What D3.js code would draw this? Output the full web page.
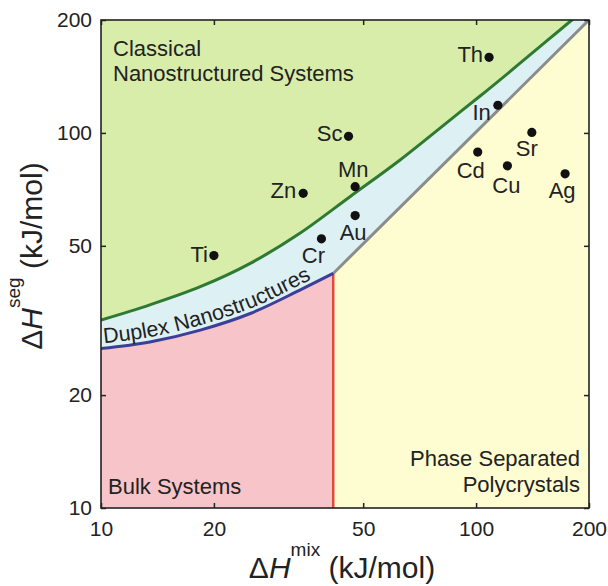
<!DOCTYPE html>
<html>
<head>
<meta charset="utf-8">
<script src="https://cdn.jsdelivr.net/npm/d3@7/dist/d3.min.js"></script>
<style>
  html, body { margin: 0; padding: 0; background: #fff; }
  svg text { font-family: "Liberation Sans", Arial, Helvetica, sans-serif; fill: #222; }
</style>
</head>
<body>
<svg id="chart" width="608" height="586"></svg>
<script>
// Alloy systems: mixing enthalpy vs. segregation enthalpy (kJ/mol)
const elements     = ["Ti", "Zn", "Sc", "Mn", "Au", "Cr", "Th", "In", "Cd", "Sr", "Cu", "Ag"];
const mixEnthalpy  = [20, 34.6, 45.7, 47.6, 47.6, 38.7, 108.3, 114.3, 101, 140.8, 121.2, 172.7];
const segEnthalpy  = [47.1, 69.0, 97.9, 71.9, 60.2, 52.2, 159, 118.5, 88.9, 100.3, 81.7, 77.8];

// Boundary between classical nanostructured systems and duplex nanostructures
const nanoBoundaryMix = [10, 13.5, 18.4, 25, 33.9, 46.1, 62.7, 85.2, 102.5, 180, 215];
const nanoBoundarySeg = [31.7, 34.8, 38.9, 44.9, 54.0, 67.6, 84.7, 108.2, 125.4, 200, 232];

// Boundary between duplex nanostructures and bulk systems
const duplexBoundaryMix = [10, 13.5, 18.4, 25, 33.9, 41.6];
const duplexBoundarySeg = [26.6, 27.7, 29.8, 33.0, 38.1, 42.2];

// Phase-separation limits
const phaseLimitMix = 41.6;
const diagonalMix = [41.6, 200];
const diagonalSeg = [42.2, 200];

const tickValues = [10, 20, 50, 100, 200];
const axisDomain = [10, 200];

// label placement around each point: [anchor, dx, dy]
const labelPlacement = {
  Ti: ["end", -6, 6], Zn: ["end", -7, 5], Sc: ["end", -6, 5], Th: ["end", -6, 5],
  Mn: ["middle", -2, -10], Au: ["middle", -2, 24], Cr: ["middle", -8, 24],
  In: ["end", -7, 15], Cd: ["middle", -7, 26], Sr: ["middle", -5, 24],
  Cu: ["middle", -1, 27], Ag: ["middle", -3, 24]
};

const L = 101, R = 589, T = 20, B = 508;
const svg = d3.select("#chart");
const x = d3.scaleLog().domain(axisDomain).range([L, R]);
const y = d3.scaleLog().domain(axisDomain).range([B, T]);

const zip = (a, b) => a.map((v, i) => [v, b[i]]);
const nanoPts = zip(nanoBoundaryMix, nanoBoundarySeg);
const duplexPts = zip(duplexBoundaryMix, duplexBoundarySeg);
const diagPts = zip(diagonalMix, diagonalSeg);

svg.append("defs").append("clipPath").attr("id", "plotClip")
  .append("rect").attr("x", L).attr("y", T).attr("width", R - L).attr("height", B - T);

const plot = svg.append("g").attr("clip-path", "url(#plotClip)");

const line = d3.line().x(d => x(d[0])).y(d => y(d[1])).curve(d3.curveMonotoneX);
const areaBelow = d3.area().x(d => x(d[0])).y1(d => y(d[1])).y0(B).curve(d3.curveMonotoneX);

// classical nanostructured region (background)
plot.append("rect").attr("x", L).attr("y", T).attr("width", R - L).attr("height", B - T)
  .attr("fill", "#d9edab");
// duplex band: everything below the nanostructure boundary
plot.append("path").attr("d", areaBelow(nanoPts)).attr("fill", "#ddf0f3");
// bulk systems
plot.append("path").attr("d", areaBelow(duplexPts)).attr("fill", "#f7c5c9");
// phase separated polycrystals
const phasePoly = [[phaseLimitMix, axisDomain[0]], diagPts[0], diagPts[1], [axisDomain[1], axisDomain[0]]];
plot.append("path")
  .attr("d", d3.line().x(d => x(d[0])).y(d => y(d[1]))(phasePoly) + "Z")
  .attr("fill", "#fefcd1");

// boundary lines
plot.append("path").attr("d", d3.line().x(d => x(d[0])).y(d => y(d[1]))(diagPts))
  .attr("fill", "none").attr("stroke", "#8c8c8c").attr("stroke-width", 3);
plot.append("line")
  .attr("x1", x(phaseLimitMix)).attr("x2", x(phaseLimitMix))
  .attr("y1", y(axisDomain[0])).attr("y2", y(diagPts[0][1]))
  .attr("stroke", "#e04a3c").attr("stroke-width", 2.5);
plot.append("path").attr("d", line(duplexPts))
  .attr("fill", "none").attr("stroke", "#3b3f98").attr("stroke-width", 3);
plot.append("path").attr("d", line(nanoPts))
  .attr("fill", "none").attr("stroke", "#2e7a32").attr("stroke-width", 3);

// curved label riding on the duplex boundary
const labelPath = d3.line().x(d => x(d[0])).y(d => y(d[1]) - 5).curve(d3.curveMonotoneX);
svg.select("defs").append("path").attr("id", "duplexTextPath").attr("d", labelPath(duplexPts));
svg.append("text").attr("font-size", 21.5)
  .append("textPath").attr("href", "#duplexTextPath").attr("startOffset", 3)
  .text("Duplex Nanostructures");

// region titles
const regionText = svg.append("g").attr("font-size", 22);
regionText.append("text").attr("x", 113).attr("y", 56).text("Classical");
regionText.append("text").attr("x", 113).attr("y", 81).text("Nanostructured Systems");
regionText.append("text").attr("x", 108).attr("y", 494).text("Bulk Systems");
regionText.append("text").attr("x", 580).attr("y", 466).attr("text-anchor", "end").text("Phase Separated");
regionText.append("text").attr("x", 580).attr("y", 492).attr("text-anchor", "end").text("Polycrystals");

// points
const pts = svg.append("g");
elements.forEach((el, i) => {
  const cx = x(mixEnthalpy[i]), cy = y(segEnthalpy[i]);
  pts.append("circle").attr("cx", cx).attr("cy", cy).attr("r", 4.6).attr("fill", "#111");
  const [anchor, dx, dy] = labelPlacement[el];
  pts.append("text").attr("x", cx + dx).attr("y", cy + dy)
    .attr("text-anchor", anchor).attr("font-size", 22).text(el);
});

// axes with inward ticks on all four sides
const fmt = d3.format("d");
const styleAxis = g => {
  g.select(".domain").remove();
  g.selectAll(".tick line").attr("stroke", "#222").attr("stroke-width", 1.5);
  g.selectAll("text").attr("font-size", 21).attr("fill", "#222")
    .attr("font-family", "Liberation Sans, Arial, sans-serif");
};
svg.append("g").attr("transform", `translate(0,${B})`)
  .call(d3.axisBottom(x).tickValues(tickValues).tickFormat(fmt).tickSizeInner(-5).tickSizeOuter(0).tickPadding(13))
  .call(styleAxis);
svg.append("g").attr("transform", `translate(${L},0)`)
  .call(d3.axisLeft(y).tickValues(tickValues).tickFormat(fmt).tickSizeInner(-5).tickSizeOuter(0).tickPadding(9))
  .call(styleAxis);
svg.append("g").attr("transform", `translate(0,${T})`)
  .call(d3.axisTop(x).tickValues(tickValues).tickFormat("").tickSizeInner(-5).tickSizeOuter(0))
  .call(styleAxis);
svg.append("g").attr("transform", `translate(${R},0)`)
  .call(d3.axisRight(y).tickValues(tickValues).tickFormat("").tickSizeInner(-5).tickSizeOuter(0))
  .call(styleAxis);

// frame
svg.append("rect").attr("x", L).attr("y", T).attr("width", R - L).attr("height", B - T)
  .attr("fill", "none").attr("stroke", "#222").attr("stroke-width", 1.6);

// axis titles
function axisTitle(g, sup) {
  g.append("tspan").text("\u0394");
  g.append("tspan").attr("font-style", "italic").text("H");
  g.append("tspan").attr("font-size", 19).attr("dy", -22).text(sup);
  g.append("tspan").attr("dy", 22).text(" (kJ/mol)");
}
svg.append("text").attr("x", 342).attr("y", 578).attr("text-anchor", "middle")
  .attr("font-size", 30).call(axisTitle, "mix");
svg.append("text").attr("transform", "translate(42,256) rotate(-90)").attr("text-anchor", "middle")
  .attr("font-size", 30).call(axisTitle, "seg");
</script>
</body>
</html>
